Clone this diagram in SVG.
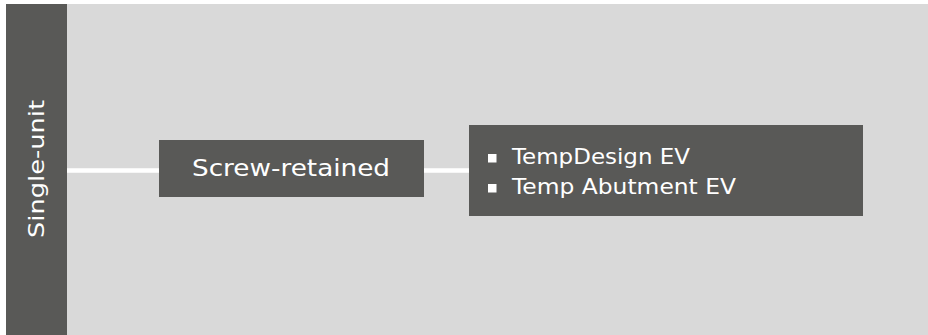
<svg xmlns="http://www.w3.org/2000/svg" width="928" height="335" viewBox="0 0 928 335">
<style>
.box{fill:#595957}
.t{fill:#ffffff;font-family:"DejaVu Sans","Liberation Sans",sans-serif}
</style>
<rect x="0" y="0" width="928" height="335" fill="#ffffff"/>
<rect x="6" y="4" width="922" height="331" fill="#d9d9d9"/>
<g id="connectors">
<line x1="67" y1="170.5" x2="159" y2="170.5" stroke="#ffffff" stroke-width="4.5"/>
<line x1="424" y1="170.5" x2="469" y2="170.5" stroke="#ffffff" stroke-width="4.5"/>
</g>
<g id="single-unit">
<rect class="box" x="6" y="4" width="61" height="331"/>
<text class="t" transform="translate(44,169) rotate(-90)" text-anchor="middle" font-size="21.5" textLength="138" lengthAdjust="spacingAndGlyphs">Single-unit</text>
</g>
<g id="screw-retained">
<rect class="box" x="159" y="140" width="265" height="57"/>
<text class="t" x="291" y="176" text-anchor="middle" font-size="23" textLength="198" lengthAdjust="spacingAndGlyphs">Screw-retained</text>
</g>
<g id="products">
<rect class="box" x="469" y="125" width="394" height="91"/>
<rect x="488" y="154" width="8.5" height="8.5" fill="#ffffff"/>
<rect x="488" y="184" width="8.5" height="8.5" fill="#ffffff"/>
<text class="t" x="512" y="164" font-size="20.5" textLength="178" lengthAdjust="spacingAndGlyphs">TempDesign EV</text>
<text class="t" x="512" y="194" font-size="20.5" textLength="224" lengthAdjust="spacingAndGlyphs">Temp Abutment EV</text>
</g>
</svg>
